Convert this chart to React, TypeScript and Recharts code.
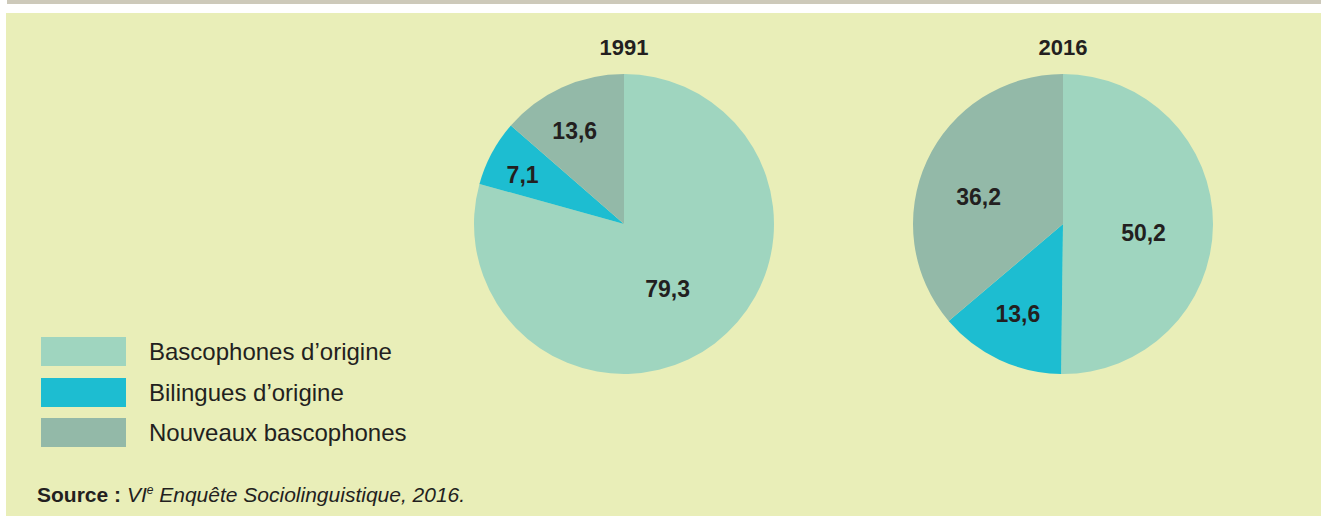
import React from "react";
import { PieChart, Pie, Cell, Legend } from "recharts";

const categories = ["Bascophones d’origine", "Bilingues d’origine", "Nouveaux bascophones"];
const years = ["1991", "2016"];
const values1991 = [79.3, 7.1, 13.6];
const values2016 = [50.2, 13.6, 36.2];

const COLORS = ["#9FD5BF", "#1DBDD1", "#93B9A8"];
const TEXT = "#231F20";
const FONT = "'Liberation Sans', Arial, Helvetica, sans-serif";

// label placement per slice: [radius factor, clockwise angle shift]
const LABEL_POS: Record<string, [number, number][]> = {
  "1991": [[0.52, 3.3], [0.75, -2.6], [0.7, -3.5]],
  "2016": [[0.54, 5.9], [0.67, 1.5], [0.59, -7.2]],
};

const RADIAN = Math.PI / 180;

const fmt = (v: number) => v.toFixed(1).replace(".", ",");

function makeLabel(year: string) {
  return (props: any) => {
    const { cx, cy, midAngle, outerRadius, index, value } = props;
    const [f, shift] = LABEL_POS[year][index];
    const a = (midAngle - shift) * RADIAN;
    const r = outerRadius * f;
    const x = cx + r * Math.cos(a);
    const y = cy - r * Math.sin(a);
    return (
      <text
        x={x}
        y={y}
        textAnchor="middle"
        dominantBaseline="central"
        fill={TEXT}
        fontSize={23}
        fontWeight="bold"
        fontFamily={FONT}
      >
        {fmt(value)}
      </text>
    );
  };
}

function LegendContent() {
  return (
    <div>
      {categories.map((c, i) => (
        <div key={c} style={{ display: "flex", alignItems: "center", height: 29, marginBottom: i < 2 ? 11.5 : 0 }}>
          <div style={{ width: 85, height: 29, background: COLORS[i] }} />
          <span style={{ marginLeft: 23, fontSize: 24, color: TEXT, fontFamily: FONT, lineHeight: "29px" }}>{c}</span>
        </div>
      ))}
    </div>
  );
}

const pies = [
  { year: years[0], values: values1991, cx: 624, cy: 224 },
  { year: years[1], values: values2016, cx: 1063, cy: 224 },
];

export default function App() {
  return (
    <div style={{ position: "absolute", left: 0, top: 0, width: 1321, height: 516, background: "#fff", fontFamily: FONT }}>
      <div style={{ position: "absolute", left: 7, top: 0, width: 1314, height: 4, background: "#CDC9BA" }} />
      <div style={{ position: "absolute", left: 6, top: 13, width: 1315, height: 503, background: "#E9EEB8" }} />
      {pies.map((p) => (
        <div
          key={p.year}
          style={{
            position: "absolute",
            left: p.cx - 60,
            top: 35,
            width: 120,
            textAlign: "center",
            fontSize: 22,
            fontWeight: "bold",
            color: TEXT,
            lineHeight: "26px",
          }}
        >
          {p.year}
        </div>
      ))}
      <div style={{ position: "absolute", left: 0, top: 0 }}>
        <PieChart width={1321} height={516} margin={{ top: 0, right: 0, bottom: 0, left: 0 }}>
          {pies.map((p) => (
            <Pie
              key={p.year}
              data={categories.map((name, i) => ({ name, value: p.values[i] }))}
              dataKey="value"
              nameKey="name"
              cx={p.cx}
              cy={p.cy}
              outerRadius={150}
              startAngle={90}
              endAngle={-270}
              stroke="none"
              label={makeLabel(p.year)}
              labelLine={false}
              isAnimationActive={false}
            >
              {categories.map((c, i) => (
                <Cell key={c} fill={COLORS[i]} />
              ))}
            </Pie>
          ))}
          <Legend
            content={<LegendContent />}
            wrapperStyle={{ position: "absolute", left: 41, top: 337, width: 420, height: 120 }}
          />
        </PieChart>
      </div>
      <div style={{ position: "absolute", left: 37, top: 482, fontSize: 21, color: TEXT, whiteSpace: "nowrap", lineHeight: "26px" }}>
        <b>Source :</b>{" "}
        <i>
          VI<sup style={{ fontSize: 12, verticalAlign: "super", lineHeight: 0 }}>e</sup> Enquête Sociolinguistique, 2016.
        </i>
      </div>
    </div>
  );
}
